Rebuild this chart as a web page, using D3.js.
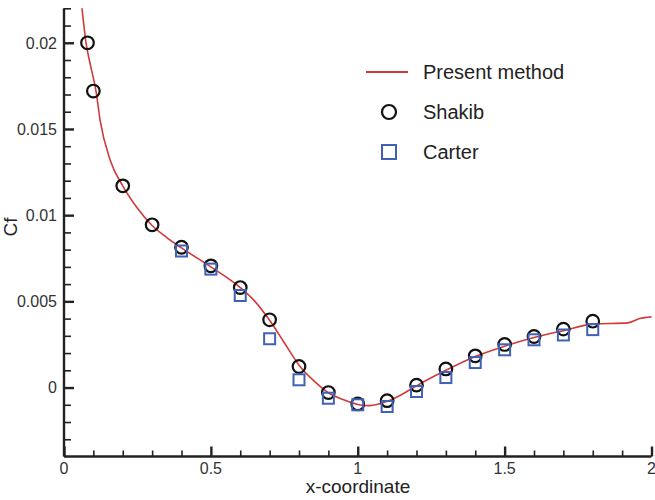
<!DOCTYPE html>
<html>
<head>
<meta charset="utf-8">
<script src="https://cdn.jsdelivr.net/npm/d3@7"></script>
<style>
  html, body { margin: 0; padding: 0; background: #fff; }
  svg { display: block; font-family: "Liberation Sans", Arial, sans-serif; }
</style>
</head>
<body>
<svg id="chart" width="655" height="500"></svg>
<script>
// Skin-friction coefficient along the wall
const presentX = [0.06, 0.075, 0.09, 0.109, 0.123, 0.157, 0.2, 0.25, 0.3, 0.35, 0.4, 0.5, 0.6, 0.65, 0.7, 0.75, 0.8, 0.85, 0.9, 0.95, 1.0, 1.04, 1.1, 1.15, 1.2, 1.3, 1.4, 1.5, 1.6, 1.7, 1.8, 1.92, 1.96, 2.0];
const presentCf = [0.0222, 0.0200, 0.0187, 0.0172, 0.0155, 0.0132, 0.0117, 0.0104, 0.0094, 0.0087, 0.0081, 0.0070, 0.0058, 0.0050, 0.0039, 0.0026, 0.0013, 0.0004, -0.0003, -0.0007, -0.00098, -0.00105, -0.0008, -0.0004, 0.0001, 0.0010, 0.0018, 0.0024, 0.0029, 0.0033, 0.00368, 0.00375, 0.0040, 0.0041];

const shakibX = [0.08, 0.1, 0.2, 0.3, 0.4, 0.5, 0.6, 0.7, 0.8, 0.9, 1.0, 1.1, 1.2, 1.3, 1.4, 1.5, 1.6, 1.7, 1.8];
const shakibCf = [0.0200, 0.0172, 0.0117, 0.00944, 0.00814, 0.00706, 0.00580, 0.00393, 0.00122, -0.00029, -0.00095, -0.00076, 0.00014, 0.00108, 0.00184, 0.00250, 0.00296, 0.00339, 0.00385];

const carterX = [0.4, 0.5, 0.6, 0.7, 0.8, 0.9, 1.0, 1.1, 1.2, 1.3, 1.4, 1.5, 1.6, 1.7, 1.8];
const carterCf = [0.00792, 0.00687, 0.00534, 0.00283, 0.00045, -0.00062, -0.00100, -0.00110, -0.00023, 0.00058, 0.00145, 0.00219, 0.00277, 0.00305, 0.00336];

const xMajorTicks = [0, 0.5, 1, 1.5, 2];
const xTickLabels = ["0", "0.5", "1", "1.5", "2"];
const yMajorTicks = [0, 0.005, 0.01, 0.015, 0.02];
const yTickLabels = ["0", "0.005", "0.01", "0.015", "0.02"];

const legendLabels = ["Present method", "Shakib", "Carter"];

const svg = d3.select("#chart");
const ink = "#222";
const lineColor = "#d23a3a";
const squareColor = "#3f62b5";

const x = d3.scaleLinear().domain([0, 2]).range([64, 651.5]);
const y = d3.scaleLinear().domain([-0.004, 0.022]).range([456.5, 8.3]);

svg.append("defs").append("clipPath").attr("id", "plotClip")
  .append("rect")
  .attr("x", x(0)).attr("y", y(0.022))
  .attr("width", 655 - x(0)).attr("height", y(-0.004) - y(0.022));

// Axes: ticks point into the plot area
const xMinor = d3.range(0, 21).map(i => i / 10).filter(v => Math.abs(v * 2 - Math.round(v * 2)) > 1e-9);
const yMinor = d3.range(-3, 23).map(i => i / 1000).filter(v => Math.abs(v * 200 - Math.round(v * 200)) > 1e-9);

const xAxisG = svg.append("g").attr("transform", `translate(0,${y(-0.004)})`);
xAxisG.call(d3.axisTop(x).tickValues(xMinor).tickSize(6).tickFormat(""));
xAxisG.call(g => g.select(".domain").remove());
const xMajorG = svg.append("g").attr("transform", `translate(0,${y(-0.004)})`);
xMajorG.call(d3.axisTop(x).tickValues(xMajorTicks).tickSize(10).tickFormat(""));
xMajorG.call(g => g.select(".domain").remove());

const yAxisG = svg.append("g").attr("transform", `translate(${x(0)},0)`);
yAxisG.call(d3.axisRight(y).tickValues(yMinor).tickSize(7).tickFormat(""));
yAxisG.call(g => g.select(".domain").remove());
const yMajorG = svg.append("g").attr("transform", `translate(${x(0)},0)`);
yMajorG.call(d3.axisRight(y).tickValues(yMajorTicks).tickSize(10).tickFormat(""));
yMajorG.call(g => g.select(".domain").remove());

svg.selectAll(".tick line").attr("stroke", ink).attr("stroke-width", 1.6);
yMajorG.selectAll(".tick line").attr("stroke-width", 2.4);
xMajorG.selectAll(".tick line").attr("stroke-width", 2.4);

// axis lines
svg.append("line").attr("x1", x(0)).attr("x2", x(2))
  .attr("y1", y(-0.004)).attr("y2", y(-0.004))
  .attr("stroke", ink).attr("stroke-width", 2.4);
svg.append("line").attr("x1", x(0)).attr("x2", x(0))
  .attr("y1", y(0.022)).attr("y2", y(-0.004))
  .attr("stroke", ink).attr("stroke-width", 2.4);

// tick labels
svg.append("g").selectAll("text").data(xMajorTicks).join("text")
  .attr("x", d => x(d)).attr("y", y(-0.004) + 17.5)
  .attr("text-anchor", "middle").attr("font-size", 16).attr("fill", "#333")
  .text((d, i) => xTickLabels[i]);
svg.append("g").selectAll("text").data(yMajorTicks).join("text")
  .attr("x", x(0) - 7).attr("y", d => y(d)).attr("dy", "0.36em")
  .attr("text-anchor", "end").attr("font-size", 16).attr("fill", "#333")
  .text((d, i) => yTickLabels[i]);

// axis titles
svg.append("text").attr("x", 358).attr("y", 492.5)
  .attr("text-anchor", "middle").attr("font-size", 19).attr("fill", "#222")
  .text("x-coordinate");
svg.append("text").attr("transform", "translate(17,227) rotate(-90)")
  .attr("text-anchor", "middle").attr("font-size", 19).attr("fill", "#222")
  .text("Cf");

// present method curve
const lineData = presentX.map((v, i) => [v, presentCf[i]]);
svg.append("path").datum(lineData)
  .attr("clip-path", "url(#plotClip)")
  .attr("fill", "none").attr("stroke", lineColor).attr("stroke-width", 1.6)
  .attr("d", d3.line().x(d => x(d[0])).y(d => y(d[1])).curve(d3.curveMonotoneX));

// Shakib
svg.append("g").selectAll("circle").data(shakibX).join("circle")
  .attr("cx", d => x(d)).attr("cy", (d, i) => y(shakibCf[i])).attr("r", 6.3)
  .attr("fill", "none").attr("stroke", "#111").attr("stroke-width", 2.2);

// Carter
const sq = 11;
svg.append("g").selectAll("rect").data(carterX).join("rect")
  .attr("x", d => x(d) - sq / 2).attr("y", (d, i) => y(carterCf[i]) - sq / 2)
  .attr("width", sq).attr("height", sq)
  .attr("fill", "none").attr("stroke", squareColor).attr("stroke-width", 2);

// legend
const leg = svg.append("g");
const rowY = [72, 112, 152];
leg.append("line").attr("x1", 366).attr("x2", 408).attr("y1", rowY[0]).attr("y2", rowY[0])
  .attr("stroke", lineColor).attr("stroke-width", 1.8);
leg.append("circle").attr("cx", 389).attr("cy", rowY[1]).attr("r", 7)
  .attr("fill", "none").attr("stroke", "#111").attr("stroke-width", 2.2);
leg.append("rect").attr("x", 389 - 7).attr("y", rowY[2] - 7).attr("width", 14).attr("height", 14)
  .attr("fill", "none").attr("stroke", squareColor).attr("stroke-width", 2);
leg.selectAll("text").data(legendLabels).join("text")
  .attr("x", 423).attr("y", (d, i) => rowY[i]).attr("dy", "0.36em")
  .attr("font-size", 20).attr("fill", "#222")
  .text(d => d);
</script>
</body>
</html>
